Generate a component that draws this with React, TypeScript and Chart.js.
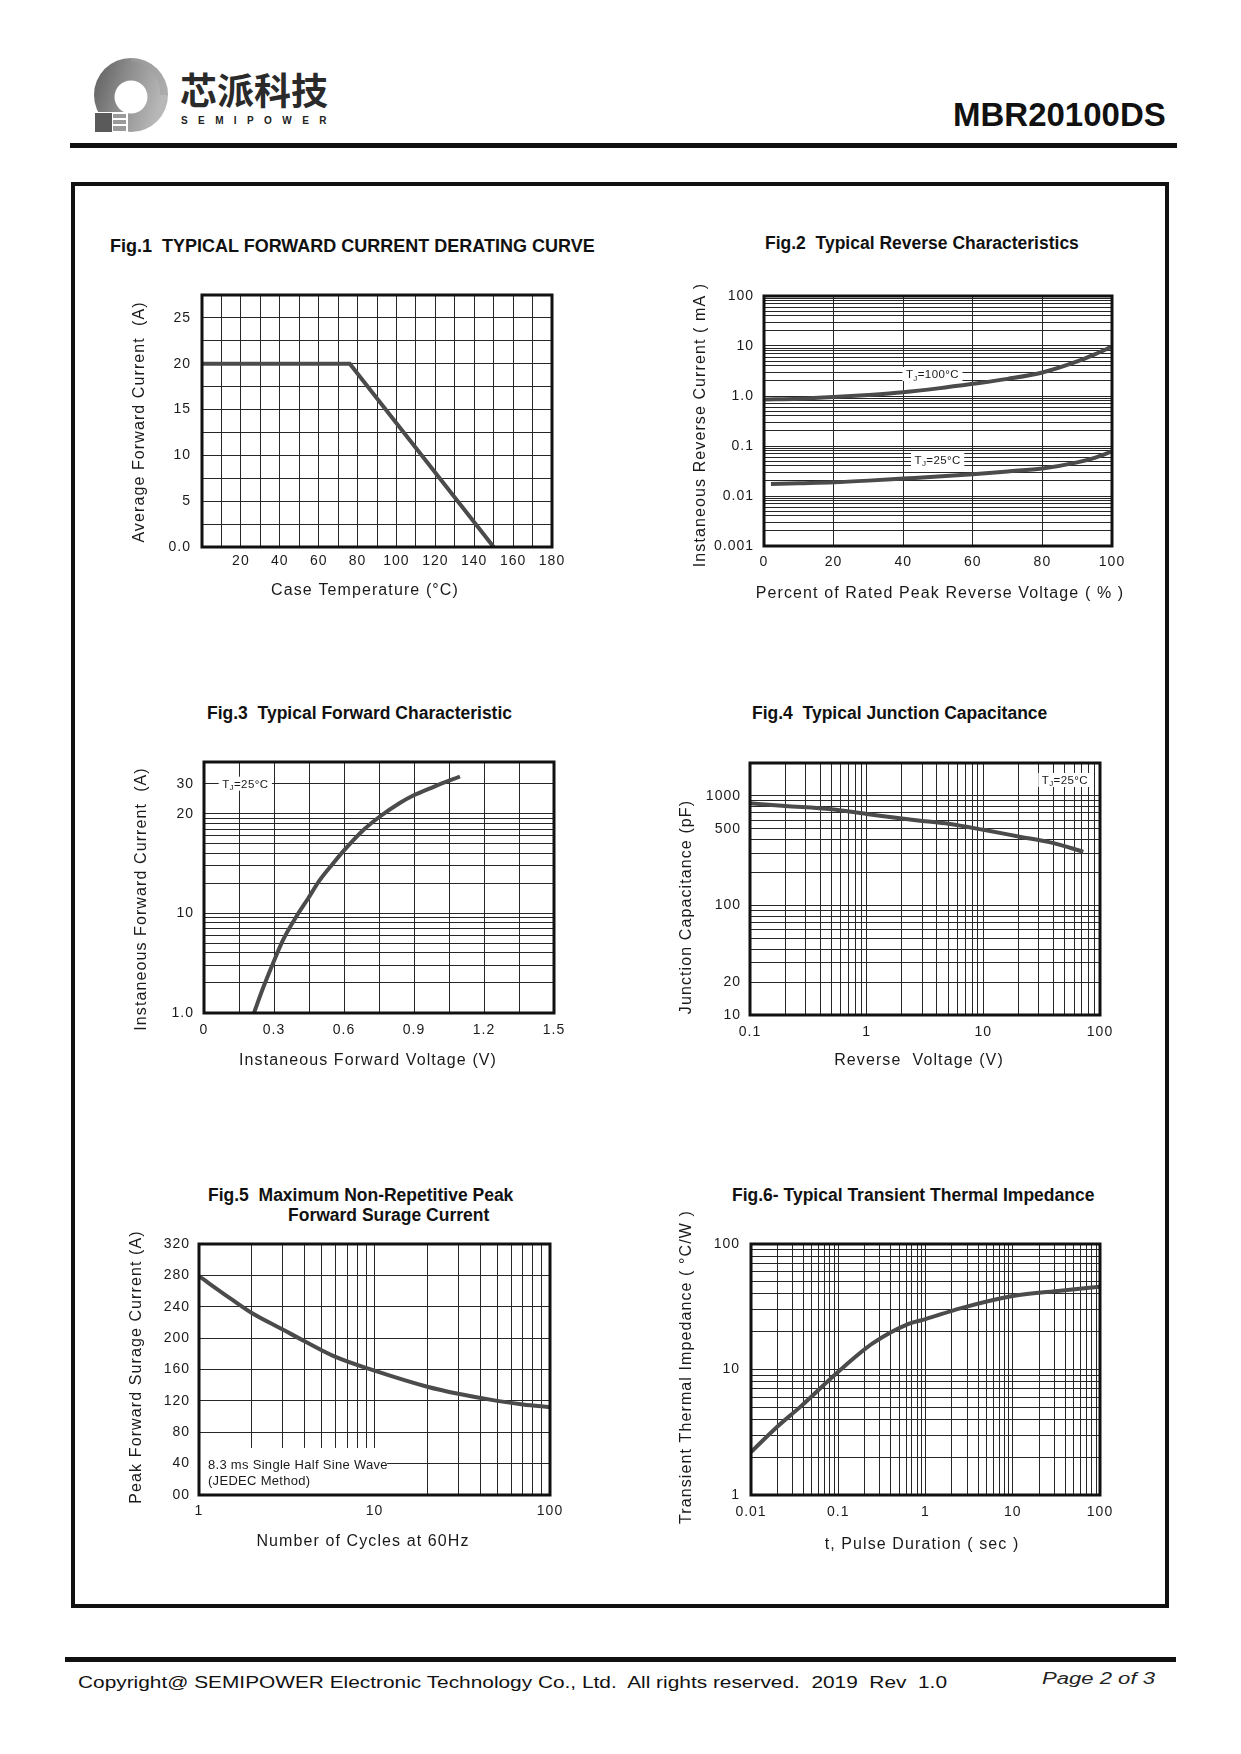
import React, { useEffect, useRef } from "react";
import { Chart, registerables } from "chart.js";

Chart.register(...registerables);

const FONT = "'Liberation Sans', Arial, Helvetica, sans-serif";
const INK = "#1a1a1a";
const CURVE = "#4b4b4b";
const GRID = "#262626";

function logGrid(min: number, max: number): number[] {
  const out: number[] = [];
  const e0 = Math.floor(Math.log10(min) + 1e-9);
  const e1 = Math.ceil(Math.log10(max) - 1e-9);
  for (let e = e0; e <= e1; e++) {
    for (let m = 1; m < 10; m++) {
      const v = parseFloat((m * Math.pow(10, e)).toPrecision(6));
      if (v >= min * 0.9999 && v <= max * 1.0001) out.push(v);
    }
  }
  return out;
}

// ---------------- Fig.1 data ----------------
const FIG1_CASE_TEMP = [0, 76, 150];
const FIG1_AVG_CURRENT = [20, 20, 0];
const FIG1_X_GRID = [0, 10, 20, 30, 40, 50, 60, 70, 80, 90, 100, 110, 120, 130, 140, 150, 160, 170, 180];
const FIG1_X_TICKS = [20, 40, 60, 80, 100, 120, 140, 160, 180];
const FIG1_X_LABELS = ["20", "40", "60", "80", "100", "120", "140", "160", "180"];
const FIG1_Y_GRID = [0, 2.5, 5, 7.5, 10, 12.5, 15, 17.5, 20, 22.5, 25, 27.5];
const FIG1_Y_TICKS = [0, 5, 10, 15, 20, 25];
const FIG1_Y_LABELS = ["0.0", "5", "10", "15", "20", "25"];

// ---------------- Fig.2 data ----------------
const FIG2_PCT_100C = [0, 10, 20, 30, 40, 50, 60, 70, 80, 90, 95, 100];
const FIG2_IR_100C = [0.85, 0.88, 0.95, 1.05, 1.19, 1.42, 1.75, 2.2, 2.95, 4.9, 6.8, 9.7];
const FIG2_PCT_25C = [2, 10, 20, 30, 40, 50, 60, 70, 80, 90, 95, 100];
const FIG2_IR_25C = [0.0174, 0.018, 0.0188, 0.0203, 0.0223, 0.0245, 0.0272, 0.031, 0.0355, 0.047, 0.058, 0.078];
const FIG2_X_GRID = [0, 20, 40, 60, 80, 100];
const FIG2_X_TICKS = [0, 20, 40, 60, 80, 100];
const FIG2_X_LABELS = ["0", "20", "40", "60", "80", "100"];
const FIG2_Y_TICKS = [0.001, 0.01, 0.1, 1, 10, 100];
const FIG2_Y_LABELS = ["0.001", "0.01", "0.1", "1.0", "10", "100"];

// ---------------- Fig.3 data ----------------
const FIG3_VF = [0.214, 0.253, 0.296, 0.339, 0.396, 0.446, 0.496, 0.553, 0.601, 0.682, 0.751, 0.839, 0.897, 0.982, 1.097];
const FIG3_IF = [1.0, 1.78, 3.16, 5.41, 9.3, 14.1, 21.5, 31.6, 43, 68.1, 92.6, 128, 152, 185, 236];
const FIG3_X_GRID = [0, 0.15, 0.3, 0.45, 0.6, 0.75, 0.9, 1.05, 1.2, 1.35, 1.5];
const FIG3_X_TICKS = [0, 0.3, 0.6, 0.9, 1.2, 1.5];
const FIG3_X_LABELS = ["0", "0.3", "0.6", "0.9", "1.2", "1.5"];
const FIG3_Y_TICKS = [1, 10, 100, 200];
const FIG3_Y_LABELS = ["1.0", "10", "20", "30"];

// ---------------- Fig.4 data ----------------
const FIG4_VR = [0.1, 0.2, 0.5, 1, 2, 3.16, 5, 10, 20, 40, 72];
const FIG4_CJ = [858, 811, 757, 686, 622, 588, 557, 491, 427, 371, 310];
const FIG4_X_TICKS = [0.1, 1, 10, 100];
const FIG4_X_LABELS = ["0.1", "1", "10", "100"];
const FIG4_Y_TICKS = [10, 20, 100, 500, 1000];
const FIG4_Y_LABELS = ["10", "20", "100", "500", "1000"];

// ---------------- Fig.5 data ----------------
const FIG5_CYCLES = [1, 1.5, 2, 3, 4, 6, 10, 20, 30, 50, 70, 100];
const FIG5_IFSM = [279, 251, 232, 211, 196, 176, 158.5, 138, 129, 120, 115.5, 112];
const FIG5_X_TICKS = [1, 10, 100];
const FIG5_X_LABELS = ["1", "10", "100"];
const FIG5_Y_GRID = [0, 40, 80, 120, 160, 200, 240, 280, 320];
const FIG5_Y_TICKS = [0, 40, 80, 120, 160, 200, 240, 280, 320];
const FIG5_Y_LABELS = ["00", "40", "80", "120", "160", "200", "240", "280", "320"];

// ---------------- Fig.6 data ----------------
const FIG6_PULSE = [0.01, 0.02, 0.037, 0.1, 0.25, 0.64, 1, 2.5, 10, 35, 100];
const FIG6_ZTH = [2.2, 3.5, 5.06, 9.6, 16.2, 23.1, 25.2, 30.7, 38.5, 42.5, 45.7];
const FIG6_X_TICKS = [0.01, 0.1, 1, 10, 100];
const FIG6_X_LABELS = ["0.01", "0.1", "1", "10", "100"];
const FIG6_Y_TICKS = [1, 10, 100];
const FIG6_Y_LABELS = ["1", "10", "100"];

type Axis = {
  type: "linear" | "logarithmic";
  min: number;
  max: number;
  grid: number[];
  ticks: number[];
  labels: string[];
  title: string;
  tdx: number;
  tdy: number;
  pad: number;
  size: number;
};
type Series = { x: number[]; y: number[]; smooth: boolean };
type Tag = { x: number; y: number; rest: string };
type Note = { x: number; y: number; text: string };
type Mask = { x0: number; x1: number; y0: number; y1: number };
type Fig = {
  box: { x: number; y: number; w: number; h: number };
  xAxis: Axis;
  yAxis: Axis;
  series: Series[];
  tags?: Tag[];
  notes?: Note[];
  masks?: Mask[];
};

const FIGS: Fig[] = [
  {
    box: { x: 120, y: 255, w: 462, h: 356 },
    xAxis: { type: "linear", min: 0, max: 180, grid: FIG1_X_GRID, ticks: FIG1_X_TICKS, labels: FIG1_X_LABELS, title: "Case Temperature (°C)", tdx: -12, tdy: 44, pad: 6, size: 64 },
    yAxis: { type: "linear", min: 0, max: 27.5, grid: FIG1_Y_GRID, ticks: FIG1_Y_TICKS, labels: FIG1_Y_LABELS, title: "Average Forward Current  (A)", tdx: -62, tdy: 1, pad: 11, size: 82 },
    series: [{ x: FIG1_CASE_TEMP, y: FIG1_AVG_CURRENT, smooth: false }],
  },
  {
    box: { x: 681, y: 256, w: 461, h: 358 },
    xAxis: { type: "linear", min: 0, max: 100, grid: FIG2_X_GRID, ticks: FIG2_X_TICKS, labels: FIG2_X_LABELS, title: "Percent of Rated Peak Reverse Voltage ( % )", tdx: 2, tdy: 48, pad: 8, size: 68 },
    yAxis: { type: "logarithmic", min: 0.001, max: 100, grid: logGrid(0.001, 100), ticks: FIG2_Y_TICKS, labels: FIG2_Y_LABELS, title: "Instaneous Reverse Current ( mA )", tdx: -63, tdy: 4, pad: 10, size: 83 },
    series: [
      { x: FIG2_PCT_100C, y: FIG2_IR_100C, smooth: true },
      { x: FIG2_PCT_25C, y: FIG2_IR_25C, smooth: true },
    ],
    tags: [
      { x: 48.4, y: 2.75, rest: "=100°C" },
      { x: 49.9, y: 0.0525, rest: "=25°C" },
    ],
  },
  {
    box: { x: 122, y: 722, w: 462, h: 359 },
    xAxis: { type: "linear", min: 0, max: 1.5, grid: FIG3_X_GRID, ticks: FIG3_X_TICKS, labels: FIG3_X_LABELS, title: "Instaneous Forward Voltage (V)", tdx: -11, tdy: 48, pad: 9, size: 68 },
    yAxis: { type: "logarithmic", min: 1, max: 330, grid: [...logGrid(1, 100), 200], ticks: FIG3_Y_TICKS, labels: FIG3_Y_LABELS, title: "Instaneous Forward Current  (A)", tdx: -62, tdy: 11.5, pad: 10, size: 82 },
    series: [{ x: FIG3_VF, y: FIG3_IF, smooth: true }],
    tags: [{ x: 0.177, y: 200, rest: "=25°C" }],
  },
  {
    box: { x: 667, y: 723, w: 463, h: 358 },
    xAxis: { type: "logarithmic", min: 0.1, max: 100, grid: logGrid(0.1, 100), ticks: FIG4_X_TICKS, labels: FIG4_X_LABELS, title: "Reverse  Voltage (V)", tdx: -6, tdy: 46, pad: 9, size: 66 },
    yAxis: { type: "logarithmic", min: 10, max: 2000, grid: [...logGrid(10, 1000), 2000], ticks: FIG4_Y_TICKS, labels: FIG4_Y_LABELS, title: "Junction Capacitance (pF)", tdx: -63, tdy: 18, pad: 9, size: 83 },
    series: [{ x: FIG4_VR, y: FIG4_CJ, smooth: true }],
    tags: [{ x: 50, y: 1400, rest: "=25°C" }],
  },
  {
    box: { x: 117, y: 1204, w: 463, h: 358 },
    xAxis: { type: "logarithmic", min: 1, max: 100, grid: logGrid(1, 100), ticks: FIG5_X_TICKS, labels: FIG5_X_LABELS, title: "Number of Cycles at 60Hz", tdx: -11.5, tdy: 47, pad: 8, size: 67 },
    yAxis: { type: "linear", min: 0, max: 320, grid: FIG5_Y_GRID, ticks: FIG5_Y_TICKS, labels: FIG5_Y_LABELS, title: "Peak Forward Surage Current (A)", tdx: -62, tdy: -2.5, pad: 9, size: 82 },
    series: [{ x: FIG5_CYCLES, y: FIG5_IFSM, smooth: true }],
    masks: [{ x0: 1, x1: 11.8, y0: 0, y1: 60 }],
    notes: [
      { x: 1.125, y: 38, text: "8.3 ms Single Half Sine Wave" },
      { x: 1.125, y: 17, text: "(JEDEC Method)" },
    ],
  },
  {
    box: { x: 667, y: 1204, w: 463, h: 361 },
    xAxis: { type: "logarithmic", min: 0.01, max: 100, grid: logGrid(0.01, 100), ticks: FIG6_X_TICKS, labels: FIG6_X_LABELS, title: "t, Pulse Duration ( sec )", tdx: -3.5, tdy: 50, pad: 9, size: 70 },
    yAxis: { type: "logarithmic", min: 1, max: 100, grid: logGrid(1, 100), ticks: FIG6_Y_TICKS, labels: FIG6_Y_LABELS, title: "Transient Thermal Impedance ( °C/W )", tdx: -64, tdy: -2.5, pad: 11, size: 84 },
    series: [{ x: FIG6_PULSE, y: FIG6_ZTH, smooth: true }],
  },
];

function labelFor(a: Axis, v: number): string {
  for (let i = 0; i < a.ticks.length; i++) {
    const t = a.ticks[i];
    const hit = t === 0 ? Math.abs(v) < 1e-12 : Math.abs(v / t - 1) < 1e-6;
    if (hit) return a.labels[i];
  }
  return "";
}

function axisOptions(a: Axis, horizontal: boolean): any {
  return {
    type: a.type,
    position: horizontal ? "bottom" : "left",
    min: a.min,
    max: a.max,
    afterBuildTicks: (scale: any) => {
      scale.ticks = a.grid.map((v) => ({ value: v }));
    },
    afterFit: (scale: any) => {
      if (horizontal) scale.height = a.size;
      else scale.width = a.size;
    },
    ticks: {
      autoSkip: false,
      maxRotation: 0,
      minRotation: 0,
      padding: a.pad,
      color: INK,
      font: { size: 14, family: FONT },
      callback: (v: any) => labelFor(a, Number(v)),
    },
    grid: { color: GRID, lineWidth: 1, drawTicks: false },
    border: { display: false },
    title: { display: false },
  };
}

function drawTag(ctx: any, cx: number, cy: number, rest: string) {
  const main = `11.5px ${FONT}`;
  const sub = `8px ${FONT}`;
  ctx.letterSpacing = "0.4px";
  ctx.font = main;
  const wT = ctx.measureText("T").width;
  const wR = ctx.measureText(rest).width;
  ctx.font = sub;
  const wJ = ctx.measureText("J").width;
  const total = wT + wJ + wR;
  const bw = total + 7;
  const bh = 14;
  ctx.fillStyle = "#ffffff";
  ctx.fillRect(cx - bw / 2, cy - bh / 2, bw, bh);
  ctx.fillStyle = INK;
  ctx.textAlign = "left";
  ctx.textBaseline = "alphabetic";
  let x = cx - total / 2;
  ctx.font = main;
  ctx.fillText("T", x, cy + 4);
  x += wT;
  ctx.font = sub;
  ctx.fillText("J", x, cy + 6.5);
  x += wJ;
  ctx.font = main;
  ctx.fillText(rest, x, cy + 4);
}

function makePlugins(fig: Fig): any[] {
  const notes = {
    id: "figNotes",
    beforeDatasetsDraw(chart: any) {
      const ctx = chart.ctx;
      const xs = chart.scales.x;
      const ys = chart.scales.y;
      ctx.save();
      for (const m of fig.masks || []) {
        const x1 = xs.getPixelForValue(m.x0);
        const x2 = xs.getPixelForValue(m.x1);
        const y1 = ys.getPixelForValue(m.y1);
        const y2 = ys.getPixelForValue(m.y0);
        ctx.fillStyle = "#ffffff";
        ctx.fillRect(x1, y1, x2 - x1, y2 - y1);
      }
      for (const t of fig.tags || []) {
        drawTag(ctx, xs.getPixelForValue(t.x), ys.getPixelForValue(t.y), t.rest);
      }
      ctx.letterSpacing = "0.3px";
      ctx.font = `13px ${FONT}`;
      ctx.fillStyle = INK;
      ctx.textAlign = "left";
      ctx.textBaseline = "middle";
      for (const n of fig.notes || []) {
        ctx.fillText(n.text, xs.getPixelForValue(n.x), ys.getPixelForValue(n.y));
      }
      ctx.restore();
    },
  };
  const titles = {
    id: "figAxisTitles",
    afterDraw(chart: any) {
      const ctx = chart.ctx;
      const a = chart.chartArea;
      ctx.save();
      ctx.letterSpacing = "1.1px";
      ctx.font = `16px ${FONT}`;
      ctx.fillStyle = INK;
      ctx.textAlign = "center";
      ctx.textBaseline = "middle";
      ctx.fillText(fig.xAxis.title, (a.left + a.right) / 2 + fig.xAxis.tdx, a.bottom + fig.xAxis.tdy);
      ctx.translate(a.left + fig.yAxis.tdx, (a.top + a.bottom) / 2 + fig.yAxis.tdy);
      ctx.rotate(-Math.PI / 2);
      ctx.fillText(fig.yAxis.title, 0, 0);
      ctx.restore();
    },
  };
  const frame = {
    id: "figFrame",
    afterDraw(chart: any) {
      const ctx = chart.ctx;
      const a = chart.chartArea;
      ctx.save();
      ctx.strokeStyle = "#111111";
      ctx.lineWidth = 3;
      ctx.strokeRect(a.left, a.top, a.right - a.left, a.bottom - a.top);
      ctx.restore();
    },
  };
  const spacing = {
    id: "figSpacing",
    beforeDraw(chart: any) {
      chart.ctx.letterSpacing = "1px";
    },
    afterDraw(chart: any) {
      chart.ctx.letterSpacing = "0px";
    },
  };
  return [spacing, notes, titles, frame];
}

function buildConfig(fig: Fig): any {
  return {
    type: "line",
    data: {
      datasets: fig.series.map((s) => ({
        data: s.x.map((x, i) => ({ x, y: s.y[i] })),
        borderColor: CURVE,
        borderWidth: 4,
        pointRadius: 0,
        fill: false,
        tension: s.smooth ? 0.4 : 0,
        cubicInterpolationMode: s.smooth ? "monotone" : "default",
      })),
    },
    options: {
      responsive: false,
      animation: false,
      devicePixelRatio: 1,
      events: [],
      layout: { padding: { left: 0, top: 40, right: 30, bottom: 0 } },
      plugins: { legend: { display: false }, tooltip: { enabled: false }, title: { display: false } },
      scales: { x: axisOptions(fig.xAxis, true), y: axisOptions(fig.yAxis, false) },
    },
    plugins: makePlugins(fig),
  };
}

function FigChart({ fig }: { fig: Fig }) {
  const ref = useRef<HTMLCanvasElement | null>(null);
  useEffect(() => {
    if (!ref.current) return;
    const chart = new Chart(ref.current, buildConfig(fig));
    return () => chart.destroy();
  }, [fig]);
  return (
    <canvas
      ref={ref}
      width={fig.box.w}
      height={fig.box.h}
      style={{ position: "absolute", left: fig.box.x, top: fig.box.y, width: fig.box.w, height: fig.box.h }}
    />
  );
}

const FIG_TITLES = [
  { text: "Fig.1  TYPICAL FORWARD CURRENT DERATING CURVE", left: 110, top: 236.7, size: 18 },
  { text: "Fig.2  Typical Reverse Characteristics", left: 765, top: 235, size: 17.5 },
  { text: "Fig.3  Typical Forward Characteristic", left: 207, top: 705, size: 17.5 },
  { text: "Fig.4  Typical Junction Capacitance", left: 752, top: 705, size: 17.5 },
  { text: "Fig.5  Maximum Non-Repetitive Peak", left: 208, top: 1186.7, size: 17.5 },
  { text: "Forward Surage Current", left: 288, top: 1207, size: 17.5 },
  { text: "Fig.6- Typical Transient Thermal Impedance", left: 732, top: 1186.7, size: 17.5 },
];

function Logo() {
  return (
    <svg width={200} height={150} style={{ position: "absolute", left: 0, top: 0 }}>
      <defs>
        <linearGradient id="ringG" x1="0" y1="0" x2="1" y2="0.3">
          <stop offset="0" stopColor="#5c5c5c" />
          <stop offset="0.45" stopColor="#8a8a8a" />
          <stop offset="1" stopColor="#b8b8b8" />
        </linearGradient>
      </defs>
      <path
        d="M 94 95 A 37 37 0 1 0 168 95 A 37 37 0 1 0 94 95 Z M 114.5 97 A 16.5 16.5 0 1 1 147.5 97 A 16.5 16.5 0 1 1 114.5 97 Z"
        fill="url(#ringG)"
        fillRule="evenodd"
      />
      <path d="M 131 58 A 37 37 0 0 1 168 95 L 160 95 A 30 30 0 0 0 131 62 Z" fill="#a0a0a0" opacity="0.5" />
      <rect x={93} y={112} width={35} height={23} fill="#ffffff" />
      <rect x={95} y={113} width={17} height={19} fill="#5a5a5a" />
      <rect x={113} y={114} width={13} height={4} fill="#9a9a9a" />
      <rect x={113} y={120} width={13} height={4} fill="#9a9a9a" />
      <rect x={113} y={126} width={13} height={5} fill="#9a9a9a" />
    </svg>
  );
}

export default function App() {
  const abs: React.CSSProperties = { position: "absolute", margin: 0, lineHeight: 1, whiteSpace: "pre" };
  return (
    <div style={{ position: "absolute", left: 0, top: 0, width: 1241, height: 1754, background: "#ffffff", overflow: "hidden", fontFamily: FONT, color: INK }}>
      <Logo />
      <div style={{ ...abs, left: 180, top: 71, fontSize: 37, fontWeight: 700, fontFamily: "'Noto Sans CJK SC', sans-serif", color: "#2a2a2a" }}>芯派科技</div>
      <div style={{ ...abs, left: 181, top: 115.7, fontSize: 10, fontWeight: 700, letterSpacing: "10.4px", color: "#222" }}>SEMIPOWER</div>
      <div style={{ ...abs, left: 953, top: 97.7, fontSize: 33, fontWeight: 700, color: "#111" }}>MBR20100DS</div>
      <div style={{ position: "absolute", left: 70, top: 143, width: 1107, height: 5, background: "#111" }} />
      <div style={{ position: "absolute", left: 71, top: 182, width: 1098, height: 1426, border: "4px solid #111", boxSizing: "border-box" }} />
      {FIG_TITLES.map((t, i) => (
        <div key={i} style={{ ...abs, left: t.left, top: t.top, fontSize: t.size, fontWeight: 700, color: "#111" }}>{t.text}</div>
      ))}
      {FIGS.map((f, i) => (
        <FigChart key={i} fig={f} />
      ))}
      <div style={{ position: "absolute", left: 65, top: 1657, width: 1111, height: 5, background: "#111" }} />
      <div style={{ ...abs, left: 78, top: 1675, fontSize: 16, transform: "scaleX(1.303)", transformOrigin: "0 0", color: "#111" }}>
        {"Copyright@ SEMIPOWER Electronic Technology Co., Ltd.  All rights reserved.  2019  Rev  1.0"}
      </div>
      <div style={{ ...abs, left: 1042, top: 1671, fontSize: 16, fontStyle: "italic", transform: "scaleX(1.38)", transformOrigin: "0 0", color: "#222" }}>
        Page 2 of 3
      </div>
    </div>
  );
}
